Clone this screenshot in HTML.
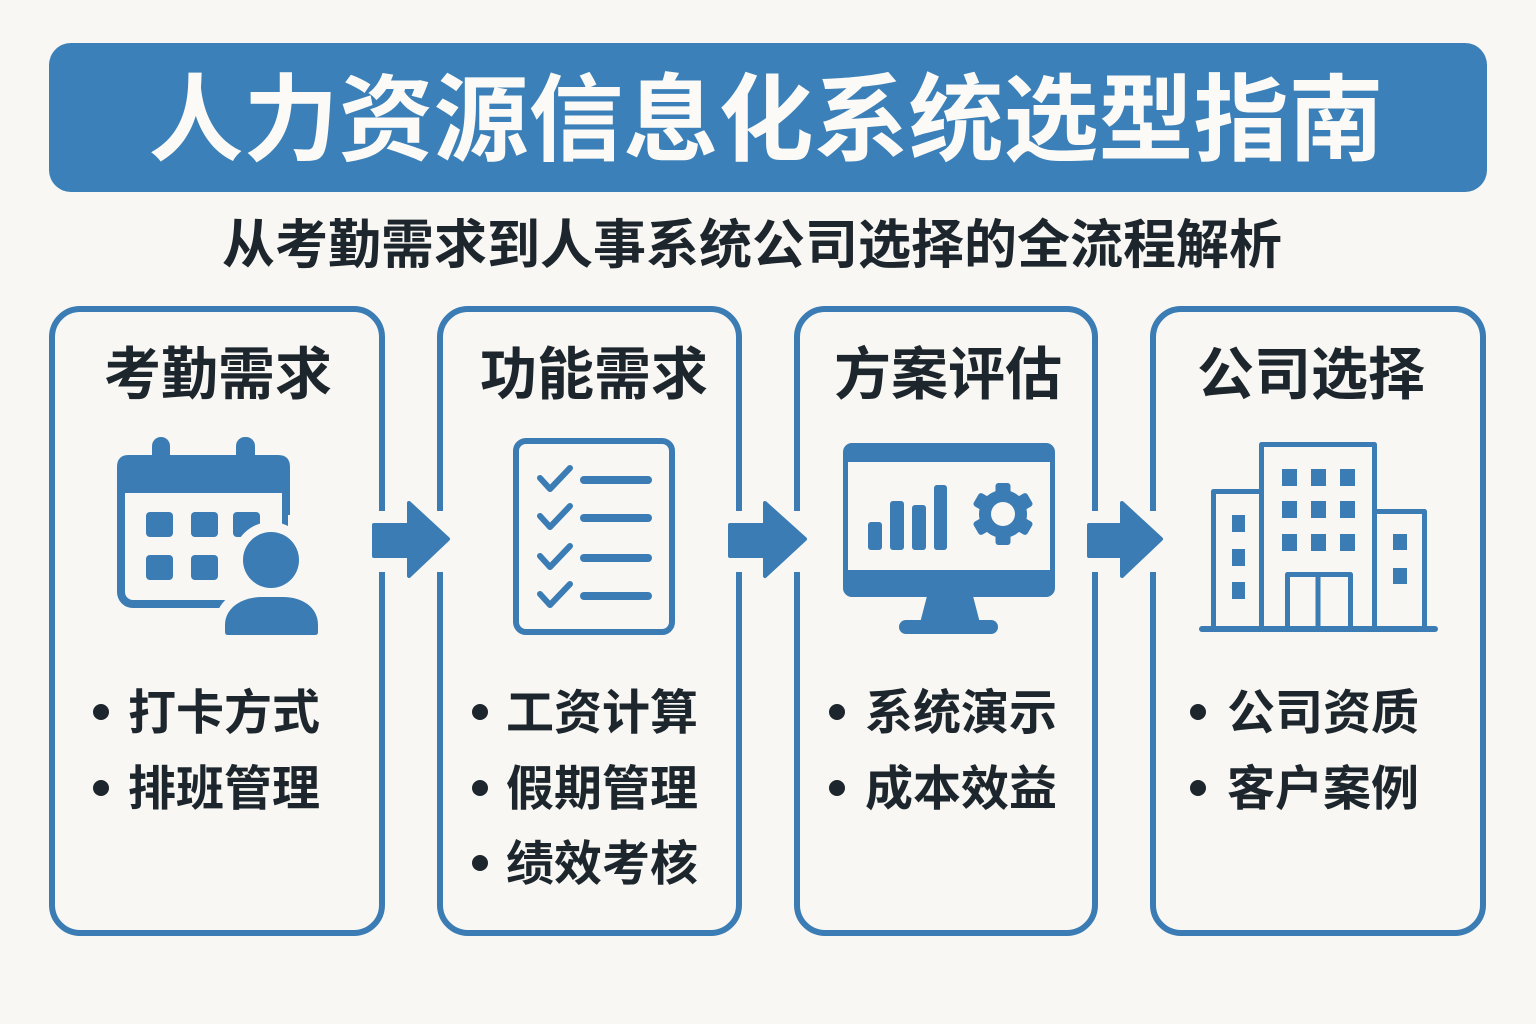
<!DOCTYPE html>
<html><head><meta charset="utf-8"><style>
html,body{margin:0;padding:0;background:#f8f7f3;}
svg{display:block;}
text{font-family:"Liberation Sans","Noto Sans CJK SC","WenQuanYi Zen Hei",sans-serif;font-weight:700;}
</style></head><body>
<svg width="1536" height="1024" viewBox="0 0 1536 1024" xmlns="http://www.w3.org/2000/svg">
<rect x="0" y="0" width="1536" height="1024" fill="#f8f7f3"/>
<!-- Banner -->
<rect x="49" y="43" width="1438" height="149" rx="22" fill="#3b80b8"/>
<text x="766" y="153" font-size="95" fill="#fbfaf6" text-anchor="middle">人力资源信息化系统选型指南</text>
<text x="752" y="263" font-size="53" fill="#1d262c" text-anchor="middle">从考勤需求到人事系统公司选择的全流程解析</text>

<!-- Cards -->
<g fill="none" stroke="#3a7cb3" stroke-width="6">
<rect x="52" y="309" width="330" height="624" rx="28"/>
<rect x="440" y="309" width="299" height="624" rx="28"/>
<rect x="797" y="309" width="298" height="624" rx="28"/>
<rect x="1153" y="309" width="330" height="624" rx="28"/>
</g>
<!-- gaps -->
<g fill="#f8f7f3">
<rect x="376" y="511" width="12" height="61"/>
<rect x="434" y="511" width="12" height="61"/>
<rect x="733" y="511" width="12" height="61"/>
<rect x="791" y="511" width="12" height="61"/>
<rect x="1089" y="511" width="12" height="61"/>
<rect x="1147" y="511" width="12" height="61"/>
</g>
<!-- arrows -->
<g fill="#3a7cb3" stroke="#3a7cb3" stroke-width="4" stroke-linejoin="round">
<polygon points="374,525 409,525 409,503 448,539 409,576 409,556 374,556"/>
<polygon points="730,525 765,525 765,503 805,539 765,576 765,556 730,556"/>
<polygon points="1089,525 1122,525 1122,503 1161,539 1122,576 1122,556 1089,556"/>
</g>

<!-- Card titles -->
<g font-size="57" fill="#1d262c" text-anchor="middle">
<text x="218" y="394">考勤需求</text>
<text x="594" y="394">功能需求</text>
<text x="948" y="394">方案评估</text>
<text x="1311" y="394">公司选择</text>
</g>

<!-- Calendar icon -->
<g>
<rect x="152" y="437" width="18" height="34" rx="9" fill="#3a7cb3"/>
<rect x="236" y="437" width="19" height="34" rx="9" fill="#3a7cb3"/>
<rect x="121" y="459" width="165" height="145" rx="12" fill="none" stroke="#3a7cb3" stroke-width="8"/>
<path d="M117,493 V467 Q117,455 129,455 H278 Q290,455 290,467 V493 Z" fill="#3a7cb3"/>
<g fill="#3a7cb3">
<rect x="146" y="512" width="27" height="25" rx="4"/>
<rect x="191" y="512" width="27" height="25" rx="4"/>
<rect x="233" y="512" width="27" height="25" rx="4"/>
<rect x="146" y="555" width="27" height="25" rx="4"/>
<rect x="191" y="555" width="27" height="25" rx="4"/>
</g>
<!-- person halo -->
<circle cx="271" cy="560" r="38" fill="#f8f7f3"/>
<path d="M215,645 V625 C215,600 238,587 260,587 H285 C308,587 328,600 328,625 V645 Z" fill="#f8f7f3"/>
<rect x="288" y="515" width="10" height="90" fill="#f8f7f3"/>
<!-- person -->
<circle cx="271" cy="560" r="28" fill="#3a7cb3"/>
<path d="M225,632 V625 C225,607 243,597 262,597 H283 C302,597 318,607 318,625 V632 Q318,635 315,635 H228 Q225,635 225,632 Z" fill="#3a7cb3"/>
</g>

<!-- Checklist icon -->
<g fill="none" stroke="#3a7cb3" stroke-linecap="round" stroke-linejoin="round">
<rect x="516" y="441" width="156" height="191" rx="10" stroke-width="6"/>
<g stroke-width="6">
<polyline points="540,478 550,489 570,468"/>
<polyline points="540,516 550,527 570,506"/>
<polyline points="540,556 550,567 570,546"/>
<polyline points="540,594 550,605 570,584"/>
</g>
<g stroke-width="8">
<line x1="584" y1="480" x2="648" y2="480"/>
<line x1="584" y1="518" x2="648" y2="518"/>
<line x1="584" y1="558" x2="648" y2="558"/>
<line x1="584" y1="596" x2="648" y2="596"/>
</g>
</g>

<!-- Monitor icon -->
<g fill="#3a7cb3">
<rect x="843" y="443" width="212" height="154" rx="9"/>
<rect x="848" y="462" width="202" height="108" fill="#f8f7f3"/>
<polygon points="927,596 973,596 980,623 920,623"/>
<rect x="899" y="620" width="99" height="14" rx="7"/>
<rect x="868" y="522" width="14" height="28" rx="3"/>
<rect x="890" y="501" width="14" height="49" rx="3"/>
<rect x="912" y="505" width="14" height="45" rx="3"/>
<rect x="934" y="485" width="13" height="65" rx="3"/>
<g transform="translate(1003,514)">
<circle r="24"/>
<rect x="-7.5" y="-31" width="15" height="62" rx="3"/>
<rect x="-7.5" y="-31" width="15" height="62" rx="3" transform="rotate(60)"/>
<rect x="-7.5" y="-31" width="15" height="62" rx="3" transform="rotate(120)"/>
<circle r="12" fill="#f8f7f3"/>
</g>
</g>

<!-- Building icon -->
<g fill="none" stroke="#3a7cb3" stroke-width="5" stroke-linejoin="round">
<path d="M1261.5,629 V444.5 H1374.5 V629"/>
<path d="M1213.5,629 V491.5 H1261.5"/>
<path d="M1374.5,511.5 H1424.5 V629"/>
<path d="M1287.5,629 V574.5 H1350.5 V629"/>
<line x1="1318" y1="574" x2="1318" y2="629"/>
<line x1="1202" y1="629" x2="1435" y2="629" stroke-width="6" stroke-linecap="round"/>
</g>
<g fill="#3a7cb3">
<rect x="1282" y="469" width="15" height="17"/><rect x="1311" y="469" width="15" height="17"/><rect x="1340" y="469" width="15" height="17"/>
<rect x="1282" y="501" width="15" height="17"/><rect x="1311" y="501" width="15" height="17"/><rect x="1340" y="501" width="15" height="17"/>
<rect x="1282" y="534" width="15" height="17"/><rect x="1311" y="534" width="15" height="17"/><rect x="1340" y="534" width="15" height="17"/>
<rect x="1232" y="515" width="13" height="17"/><rect x="1232" y="549" width="13" height="17"/><rect x="1232" y="582" width="13" height="17"/>
<rect x="1393" y="534" width="14" height="16"/><rect x="1393" y="568" width="14" height="16"/>
</g>

<!-- Bullets -->
<g fill="#1d262c">
<circle cx="101" cy="712" r="8"/><circle cx="101" cy="788" r="8"/>
<circle cx="480" cy="712" r="8"/><circle cx="480" cy="788" r="8"/><circle cx="480" cy="863" r="8"/>
<circle cx="837" cy="712" r="8"/><circle cx="837" cy="788" r="8"/>
<circle cx="1198" cy="712" r="8"/><circle cx="1198" cy="788" r="8"/>
</g>
<g font-size="48" fill="#1d262c">
<text x="128" y="729">打卡方式</text>
<text x="128" y="805">排班管理</text>
<text x="506" y="729">工资计算</text>
<text x="506" y="805">假期管理</text>
<text x="506" y="880">绩效考核</text>
<text x="865" y="729">系统演示</text>
<text x="865" y="805">成本效益</text>
<text x="1227" y="729">公司资质</text>
<text x="1227" y="805">客户案例</text>
</g>
</svg>
</body></html>
